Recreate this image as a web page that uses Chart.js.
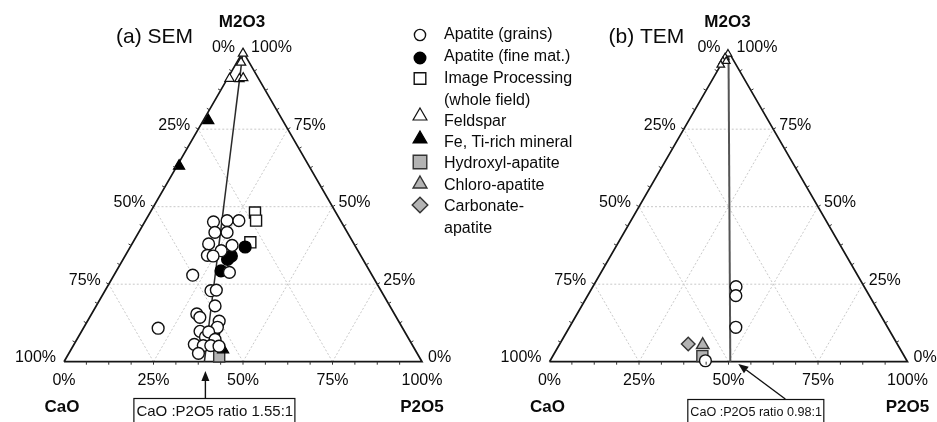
<!DOCTYPE html>
<html>
<head>
<meta charset="utf-8">
<script src="https://cdn.jsdelivr.net/npm/chart.js@4.4.1/dist/chart.umd.min.js"></script>
<style>
  html, body { margin: 0; padding: 0; background: #fff; overflow: hidden; }
  #wrap { position: relative; width: 937px; height: 422px; }
  canvas { display: block; }
</style>
</head>
<body>
<div id="wrap"><canvas id="tern" width="937" height="422"></canvas></div>
<script>
// Compositions are [P2O5 %, M2O3 %]; CaO is the remainder to 100 %.

// ---- (a) SEM ----
const semApatiteGrains = [
  [19.2, 45.1], [22.8, 45.5], [26.1, 45.5], [21.3, 41.7], [24.7, 41.7],
  [21.4, 38.0], [26.0, 35.8], [28.2, 37.5], [22.9, 34.3], [24.6, 34.1],
  [22.0, 27.9], [31.8, 28.8], [29.6, 22.9], [31.0, 23.1], [33.2, 18.0],
  [29.4, 15.4], [30.8, 14.3], [36.8, 13.1], [37.3, 11.1], [33.1, 9.8],
  [35.5, 8.0], [35.6, 9.6], [38.6, 7.2], [33.6, 5.6], [36.3, 5.2],
  [38.4, 5.2], [40.8, 5.0], [36.2, 2.7], [20.9, 10.8]
];
const semApatiteFine = [[29.2, 33.0], [29.7, 34.1], [29.2, 29.3], [32.1, 37.0], [37.1, 9.6]];
const semImageProcessing = [[29.3, 48.1], [30.9, 45.5], [32.8, 38.5]];
const semFeldspar = [[0.3, 99.4], [1.2, 96.5], [0.6, 91.3], [3.4, 91.2], [4.3, 91.5]];
const semFeTiMineral = [[1.4, 77.8], [0.6, 63.1], [42.5, 3.9]];
const semHydroxylApatite = [[42.5, 1.7]];
const semChloroApatite = [];
const semCarbonateApatite = [];
const semRatio = { cao: 1.55, p2o5: 1 };

// ---- (b) TEM ----
const temApatiteGrains = [[40.0, 24.2], [41.4, 21.3], [46.5, 11.1], [43.4, 0.3]];
const temApatiteFine = [];
const temImageProcessing = [];
const temFeldspar = [[0.2, 99.3], [0.0, 98.1], [0.0, 96.9], [0.0, 95.7], [0.9, 96.9]];
const temFeTiMineral = [];
const temHydroxylApatite = [[41.8, 1.8]];
const temChloroApatite = [[40.1, 5.4]];
const temCarbonateApatite = [[35.9, 5.7]];
const temRatio = { cao: 0.98, p2o5: 1 };

// Axis text
const gridFractions = [25, 50, 75];
const tickLabels = ['0%', '25%', '50%', '75%', '100%'];
const vertexNames = { left: 'CaO', right: 'P2O5', top: 'M2O3' };
const panelTitles = ['(a) SEM', '(b) TEM'];

const seriesNames = [
  'Apatite (grains)', 'Apatite (fine mat.)', 'Image Processing\n(whole field)', 'Feldspar',
  'Fe, Ti-rich mineral', 'Hydroxyl-apatite', 'Chloro-apatite', 'Carbonate-\napatite'
];

// ---- geometry: one unit = triangle side ----
const PX_PER_UNIT = 358;
const W = 937, H = 422;
const ORIGIN_X = 64, BASE_Y = 361.7;
const X_MIN = -ORIGIN_X / PX_PER_UNIT, X_MAX = X_MIN + W / PX_PER_UNIT;
const Y_MAX = BASE_Y / PX_PER_UNIT, Y_MIN = Y_MAX - H / PX_PER_UNIT;
const PANEL_OFFSETS = [0, (549.5 - ORIGIN_X) / PX_PER_UNIT];
const SQ3_2 = Math.sqrt(3) / 2;

function tern(p, m, off) {
  return { x: off + p / 100 + m / 200, y: (m / 100) * SQ3_2 };
}

const GRAY = '#b3b3b3';
// marker look per series; legendRadius is the size used in the key
const markerStyles = [
  { pointStyle: 'circle', pointRadius: 5.9, legendRadius: 5.6, backgroundColor: '#fff', borderColor: '#111', pointBorderWidth: 1.4 },
  { pointStyle: 'circle', pointRadius: 5.9, legendRadius: 5.8, backgroundColor: '#000', borderColor: '#000', pointBorderWidth: 1.4 },
  { pointStyle: 'rect', pointRadius: 7.8, legendRadius: 8.2, backgroundColor: '#fff', borderColor: '#111', pointBorderWidth: 1.4 },
  { pointStyle: 'triangle', pointRadius: 5.4, legendRadius: 8, backgroundColor: '#fff', borderColor: '#111', pointBorderWidth: 1.2 },
  { pointStyle: 'triangle', pointRadius: 6.4, legendRadius: 8, backgroundColor: '#000', borderColor: '#000', pointBorderWidth: 1.2 },
  { pointStyle: 'rect', pointRadius: 7.8, legendRadius: 9.6, backgroundColor: GRAY, borderColor: '#333', pointBorderWidth: 1.4 },
  { pointStyle: 'triangle', pointRadius: 7.2, legendRadius: 8, backgroundColor: GRAY, borderColor: '#333', pointBorderWidth: 1.4 },
  { pointStyle: 'rectRot', pointRadius: 6.8, legendRadius: 7.8, backgroundColor: GRAY, borderColor: '#333', pointBorderWidth: 1.4 }
];

const panels = [
  { series: [semApatiteGrains, semApatiteFine, semImageProcessing, semFeldspar, semFeTiMineral,
             semHydroxylApatite, semChloroApatite, semCarbonateApatite], ratio: semRatio,
    ratioColor: '#2a2a2a', ratioWidth: 1.5, feldsparRadius: 5.4 },
  { series: [temApatiteGrains, temApatiteFine, temImageProcessing, temFeldspar, temFeTiMineral,
             temHydroxylApatite, temChloroApatite, temCarbonateApatite], ratio: temRatio,
    ratioColor: '#555', ratioWidth: 2, feldsparRadius: 4.4 }
];

function lineSet(points, color, width, dash, order) {
  return {
    type: 'scatter', data: points, showLine: true, pointRadius: 0, pointHoverRadius: 0,
    borderColor: color, borderWidth: width, borderDash: dash || [], fill: false, order: order, clip: false
  };
}

const datasets = [];
panels.forEach((panel, pi) => {
  const off = PANEL_OFFSETS[pi];
  // grid
  gridFractions.forEach(f => {
    datasets.push(lineSet([tern(0, f, off), tern(100 - f, f, off)], '#c9c9c9', 1, [2, 2], 30));
    datasets.push(lineSet([tern(f, 0, off), tern(f, 100 - f, off)], '#c9c9c9', 1, [2, 2], 30));
    datasets.push(lineSet([tern(100 - f, 0, off), tern(0, 100 - f, off)], '#c9c9c9', 1, [2, 2], 30));
  });
  // triangle frame
  datasets.push(lineSet([tern(0, 0, off), tern(100, 0, off), tern(0, 100, off), tern(0, 0, off)], '#151515', 1.7, null, 20));
  // CaO : P2O5 ratio line from the M2O3 apex
  const pRatio = 100 * panel.ratio.p2o5 / (panel.ratio.p2o5 + panel.ratio.cao);
  panel.ratioFoot = pRatio;
  datasets.push(lineSet([tern(0, 100, off), tern(pRatio, 0, off)], panel.ratioColor, panel.ratioWidth, null, 10));
  // measured compositions
  panel.series.forEach((pairs, si) => {
    if (!pairs.length) return;
    const style = Object.assign({}, markerStyles[si]);
    if (si === 3) style.pointRadius = panel.feldsparRadius;
    delete style.legendRadius;
    datasets.push(Object.assign({
      type: 'scatter', label: seriesNames[si], data: pairs.map(([p, m]) => tern(p, m, off)),
      showLine: false, pointHoverRadius: 0, order: 0, clip: false
    }, style));
  });
});

const FONT = '"Liberation Sans", Arial, Helvetica, sans-serif';

function drawMarker(ctx, style, x, y) {
  const r = style.legendRadius;
  ctx.save();
  ctx.fillStyle = style.backgroundColor;
  ctx.strokeStyle = style.borderColor;
  ctx.lineWidth = style.pointBorderWidth;
  ctx.beginPath();
  if (style.pointStyle === 'circle') {
    ctx.arc(x, y, r, 0, Math.PI * 2);
  } else if (style.pointStyle === 'rect') {
    const s = r * Math.SQRT1_2;
    ctx.rect(x - s, y - s, 2 * s, 2 * s);
  } else if (style.pointStyle === 'triangle') {
    ctx.moveTo(x, y - r);
    ctx.lineTo(x + r * SQ3_2, y + r / 2);
    ctx.lineTo(x - r * SQ3_2, y + r / 2);
    ctx.closePath();
  } else if (style.pointStyle === 'rectRot') {
    ctx.moveTo(x - r, y); ctx.lineTo(x, y - r); ctx.lineTo(x + r, y); ctx.lineTo(x, y + r);
    ctx.closePath();
  }
  ctx.fill();
  ctx.stroke();
  ctx.restore();
}

function arrow(ctx, x0, y0, x1, y1) {
  const a = Math.atan2(y1 - y0, x1 - x0), len = 10, half = 4;
  const bx = x1 - len * Math.cos(a), by = y1 - len * Math.sin(a);
  ctx.beginPath();
  ctx.moveTo(x0, y0); ctx.lineTo(bx, by);
  ctx.stroke();
  ctx.beginPath();
  ctx.moveTo(x1, y1);
  ctx.lineTo(bx + half * Math.sin(a), by - half * Math.cos(a));
  ctx.lineTo(bx - half * Math.sin(a), by + half * Math.cos(a));
  ctx.closePath();
  ctx.fill();
}

// pixel placement of the annotation boxes, relative to the foot of the ratio line
const annotationLayout = [
  { from: [1, 398], to: [1, 371], box: [-71, 90], font: 15 },
  { from: [55, 399], to: [8, 364], box: [-43, 93], font: 12.6 }
];
const titleLayout = [{ dx: 52, y: 37 }, { dx: 59, y: 37 }];

const ternaryDecor = {
  id: 'ternaryDecor',
  afterDatasetsDraw(chart) {
    const { ctx } = chart;
    const sx = chart.scales.x, sy = chart.scales.y;
    const pix = (p, m, off) => { const t = tern(p, m, off); return [sx.getPixelForValue(t.x), sy.getPixelForValue(t.y)]; };
    ctx.save();
    panels.forEach((panel, pi) => {
      const off = PANEL_OFFSETS[pi];
      // small ticks along the three edges, pointing outwards
      ctx.strokeStyle = '#333'; ctx.lineWidth = 1;
      for (let i = 1; i < 16; i++) {
        const f = 100 * i / 16;
        const marks = [
          [pix(f, 0, off), [0, 1]],
          [pix(0, f, off), [-SQ3_2, -0.5]],
          [pix(100 - f, f, off), [SQ3_2, -0.5]]
        ];
        marks.forEach(([[x, y], [nx, ny]]) => {
          ctx.beginPath(); ctx.moveTo(x, y); ctx.lineTo(x + nx * 3, y + ny * 3); ctx.stroke();
        });
      }
      ctx.fillStyle = '#0a0a0a';
      // bottom scale (P2O5 %)
      ctx.font = '16px ' + FONT; ctx.textAlign = 'center'; ctx.textBaseline = 'middle';
      tickLabels.forEach((lab, i) => {
        const [x, y] = pix(i * 25, 0, off);
        ctx.fillText(lab, x, y + 18.5);
      });
      // left edge (CaO %)
      ctx.textAlign = 'right';
      tickLabels.slice(1).forEach((lab, i) => {
        const [x, y] = pix(0, 100 - (i + 1) * 25, off);
        ctx.fillText(lab, x - 8, y - 4);
      });
      // right edge (M2O3 %)
      ctx.textAlign = 'left';
      tickLabels.slice(0, 4).forEach((lab, i) => {
        const [x, y] = pix(100 - i * 25, i * 25, off);
        ctx.fillText(lab, x + 6, y - 4);
      });
      // apex
      const [ax, ay] = pix(0, 100, off);
      ctx.textAlign = 'right'; ctx.fillText(tickLabels[0], ax - 8, ay - 4);
      ctx.textAlign = 'left'; ctx.fillText(tickLabels[4], ax + 8, ay - 4);
      // vertex names
      ctx.font = 'bold 17px ' + FONT; ctx.textAlign = 'center';
      ctx.fillText(vertexNames.top, ax - 1, ay - 29);
      const [lx, ly] = pix(0, 0, off), [rx, ry] = pix(100, 0, off);
      ctx.fillText(vertexNames.left, lx - 2, ly + 45.5);
      ctx.fillText(vertexNames.right, rx, ry + 45.5);
      // panel title
      ctx.font = '21px ' + FONT; ctx.textAlign = 'left';
      ctx.fillText(panelTitles[pi], lx + titleLayout[pi].dx, titleLayout[pi].y);
      // ratio annotation
      const an = annotationLayout[pi];
      const [fx] = pix(panel.ratioFoot, 0, off);
      ctx.strokeStyle = '#111'; ctx.fillStyle = '#111'; ctx.lineWidth = 1.4;
      arrow(ctx, fx + an.from[0], an.from[1], fx + an.to[0], an.to[1]);
      ctx.lineWidth = 1.2;
      ctx.strokeRect(fx + an.box[0] + 0.5, an.from[1] + 0.5, an.box[1] - an.box[0], 40);
      ctx.font = an.font + 'px ' + FONT; ctx.textAlign = 'left';
      const txt = 'CaO :P2O5 ratio ' + panel.ratio.cao.toFixed(2) + ':' + panel.ratio.p2o5;
      ctx.fillText(txt, fx + an.box[0] + 3, an.from[1] + 14);
    });

    // legend
    const rows = [
      { my: 35, ty: [35] }, { my: 58, ty: [57] }, { my: 78.5, ty: [79, 101] }, { my: 116, ty: [122] },
      { my: 139, ty: [143] }, { my: 162, ty: [164] }, { my: 184, ty: [186] }, { my: 205, ty: [207, 229] }
    ];
    ctx.font = '16px ' + FONT; ctx.textAlign = 'left'; ctx.textBaseline = 'middle'; ctx.fillStyle = '#0a0a0a';
    seriesNames.forEach((name, i) => {
      drawMarker(ctx, markerStyles[i], 420, rows[i].my);
      name.split('\n').forEach((line, k) => ctx.fillText(line, 444, rows[i].ty[k]));
    });
    ctx.restore();
  }
};

new Chart(document.getElementById('tern'), {
  type: 'scatter',
  data: { datasets },
  options: {
    responsive: false,
    animation: false,
    devicePixelRatio: 1,
    layout: { padding: 0, autoPadding: false },
    scales: {
      x: { type: 'linear', min: X_MIN, max: X_MAX, display: false },
      y: { type: 'linear', min: Y_MIN, max: Y_MAX, display: false }
    },
    plugins: { legend: { display: false }, tooltip: { enabled: false } },
    events: []
  },
  plugins: [ternaryDecor]
});
</script>
</body>
</html>
